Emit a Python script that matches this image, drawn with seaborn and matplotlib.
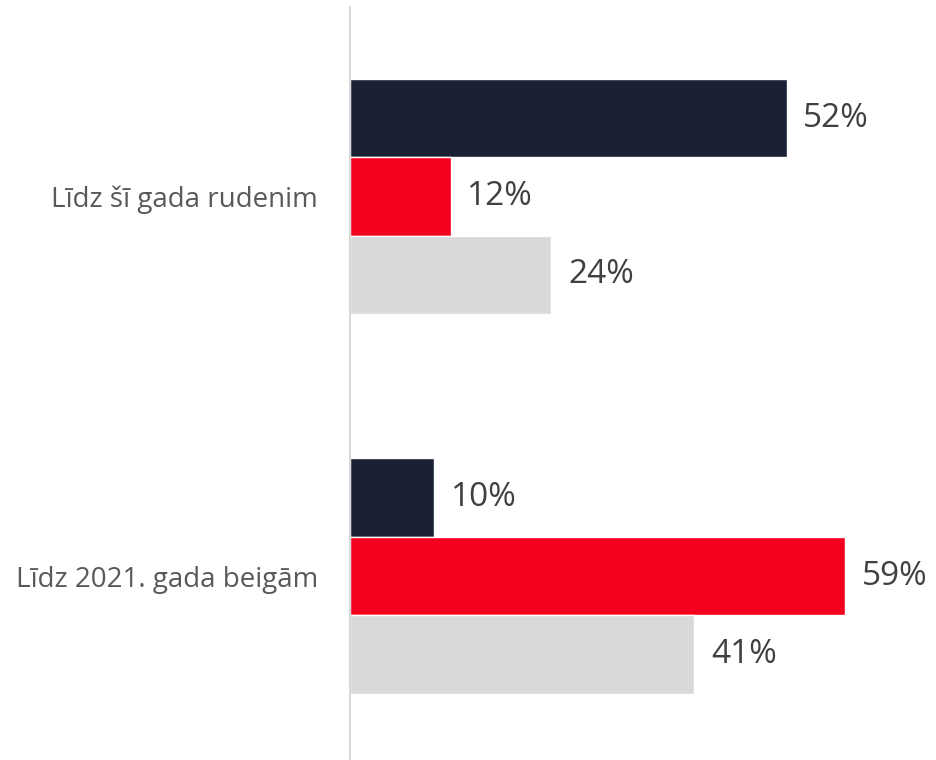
import pandas as pd
import matplotlib.pyplot as plt
import seaborn as sns

# dati
categories = ["Līdz šī gada rudenim", "Līdz 2021. gada beigām"]
series = ["Sērija 1", "Sērija 2", "Sērija 3"]
values = {
    "Sērija 1": [52, 10],
    "Sērija 2": [12, 59],
    "Sērija 3": [24, 41],
}
colors = ["#1A2035", "#F5001E", "#D9D9D9"]

rows = []
for s in series:
    for c, v in zip(categories, values[s]):
        rows.append({"Kategorija": c, "Sērija": s, "Vērtība": v})
df = pd.DataFrame(rows)

sns.set_style("white")
plt.rcParams["font.family"] = ["Open Sans", "DejaVu Sans"]

fig = plt.figure(figsize=(9.36, 7.6), dpi=100)
ax = fig.add_axes([350 / 936, 0, 1 - 350 / 936, 1 - 7 / 760])

sns.barplot(data=df, y="Kategorija", x="Vērtība", hue="Sērija", order=categories,
            hue_order=series, palette=colors, orient="h", width=0.62,
            saturation=1, legend=False, ax=ax)

for cont in ax.containers:
    ax.bar_label(cont, labels=[f"{v:.0f}%" for v in cont.datavalues], padding=12,
                 fontsize=24, color="#404040")

ax.set_xlim(0, 69.8)
ax.set_ylim(1.484, -0.499)
ax.set_xlabel("")
ax.set_ylabel("")
ax.set_xticks([])
ax.tick_params(axis="y", length=0, pad=23, labelsize=20, labelcolor="#595959")
for side in ["top", "right", "bottom"]:
    ax.spines[side].set_visible(False)
ax.spines["left"].set_color("#D9D9D9")
ax.spines["left"].set_linewidth(1.5)

fig.savefig("out.png", dpi=100)
